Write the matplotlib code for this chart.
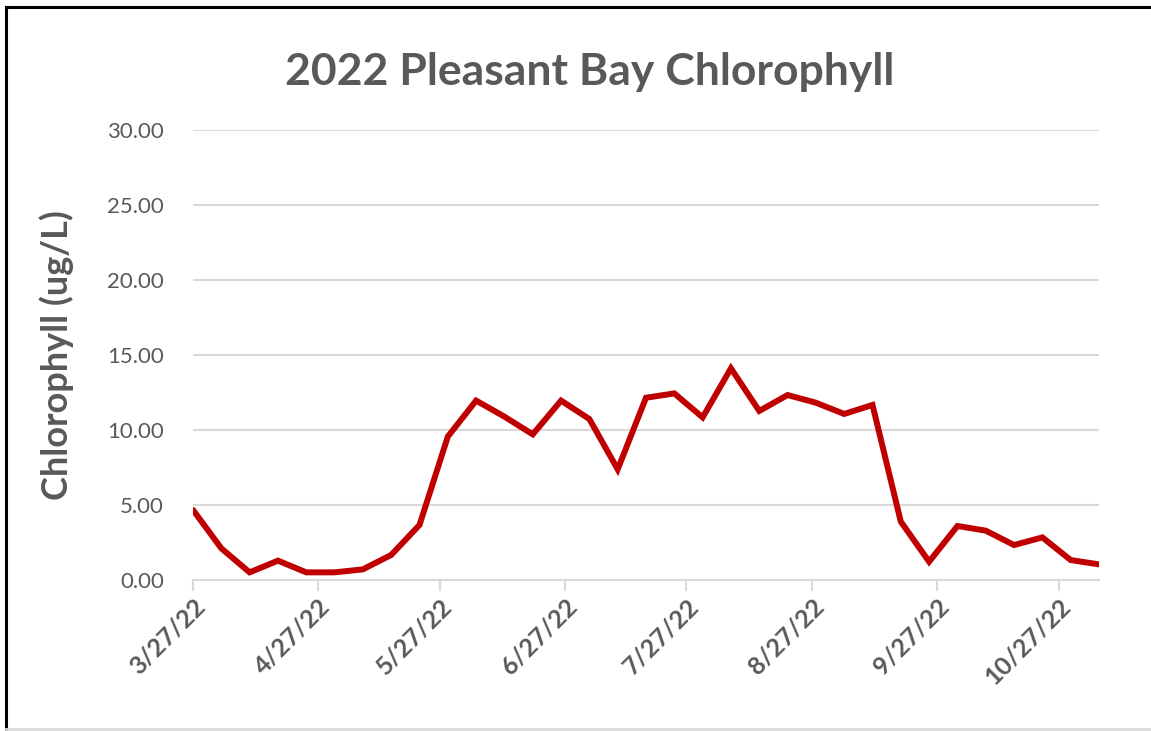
import datetime as dt
import matplotlib
matplotlib.use("Agg")
import matplotlib.pyplot as plt
import matplotlib.dates as mdates
import matplotlib.transforms as mtransforms
from matplotlib.lines import Line2D

# Data (weekly samples from 3/27/22)
start_date = dt.date(2022, 3, 27)
n_weeks = 33
chlorophyll = [4.67, 2.11, 0.51, 1.29, 0.51, 0.51, 0.71, 1.67, 3.67, 9.56,
               11.96, 10.89, 9.71, 11.96, 10.73, 7.38, 12.15, 12.44, 10.84, 14.11,
               11.27, 12.33, 11.82, 11.07, 11.67, 3.89, 1.22, 3.60, 3.29, 2.33,
               2.84, 1.33, 1.04]
sample_dates = [start_date + dt.timedelta(days=7 * i) for i in range(n_weeks)]
tick_dates = [dt.date(2022, m, 27) for m in range(3, 11)]
y_ticks = [0, 5, 10, 15, 20, 25, 30]

plt.rcParams['font.family'] = ['Lato', 'DejaVu Sans']
text_gray = '#595959'
grid_gray = '#d9d9d9'

fig = plt.figure(figsize=(11.51, 7.31), dpi=100)
ax = fig.add_axes([193 / 1151, 1 - 580 / 731, (1099 - 193) / 1151, 450 / 731])

ax.plot(sample_dates, chlorophyll, color='#c00000', linewidth=4.3,
        solid_joinstyle='miter', solid_capstyle='round', zorder=3)

ax.set_xlim(sample_dates[0], sample_dates[-1])
ax.set_ylim(0, 30)
ax.set_yticks(y_ticks)
ax.set_yticklabels(['{:.2f}'.format(v) for v in y_ticks])
ax.set_xticks(tick_dates)
ax.xaxis.set_major_formatter(mdates.DateFormatter('%-m/%-d/%y'))

ax.grid(axis='y', color=grid_gray, linewidth=1.5)
ax.set_axisbelow(True)
for side in ['top', 'right', 'left']:
    ax.spines[side].set_visible(False)
ax.spines['bottom'].set_color(grid_gray)
ax.spines['bottom'].set_linewidth(1.5)

ax.tick_params(axis='y', length=0, pad=21, labelsize=16, labelcolor=text_gray)
ax.tick_params(axis='x', length=8, width=1.5, color=grid_gray, direction='out',
               pad=8, labelsize=18, labelcolor=text_gray)
shift = mtransforms.ScaledTranslation(8 / 100, 0, fig.dpi_scale_trans)
for lbl in ax.get_xticklabels():
    lbl.set_rotation(45)
    lbl.set_ha('right')
    lbl.set_va('center')
    lbl.set_rotation_mode('anchor')
    lbl.set_fontweight('bold')
    lbl.set_transform(lbl.get_transform() + shift)

ax.set_ylabel('Chlorophyll (ug/L)', fontsize=26, fontweight='bold', color=text_gray,
              labelpad=24)
fig.text(0.512, 1 - 72 / 731, '2022 Pleasant Bay Chlorophyll', fontsize=32,
         fontweight='bold', color=text_gray, ha='center', va='center')

# frame lines around the screenshot
fig.add_artist(Line2D([6 / 1151, 1], [1 - 7 / 731, 1 - 7 / 731], color='black', linewidth=2.2))
fig.add_artist(Line2D([6 / 1151, 6 / 1151], [1 - 7 / 731, 0], color='black', linewidth=2.2))
fig.add_artist(Line2D([6 / 1151, 1], [1 - 729 / 731, 1 - 729 / 731], color='#d9d9d9', linewidth=2))

fig.savefig('out.png', dpi=100, facecolor='white')
